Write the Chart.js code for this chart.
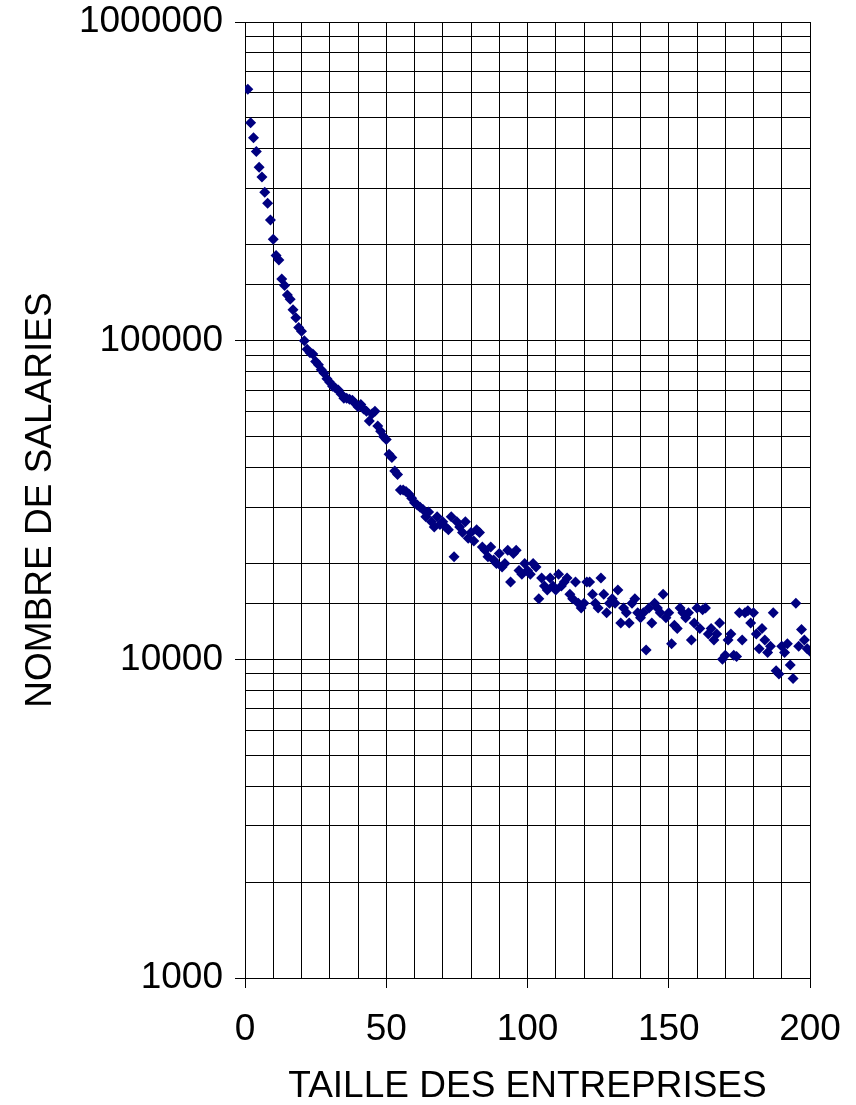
<!DOCTYPE html>
<html lang="fr">
<head>
  <meta charset="UTF-8">
  <title>Nombre de salaries par taille d'entreprise</title>
  <style>
    body {
      margin: 0;
      padding: 0;
      background-color: #ffffff;
    }
    .chart-container {
      width: 856px;
      height: 1105px;
    }
  </style>
</head>
<body>

<div class="chart-container">
  <canvas id="chart"></canvas>
</div>

<script src="https://cdn.jsdelivr.net/npm/chart.js"></script>
<script>
  // taille des entreprises 1..200 (position = index + 1)
  const salaries = [
    615000, 483000, 433000, 392000, 350000, 326000, 292000, 270000, 239000, 208000,
    185000, 179000, 156000, 149000, 139000, 135000, 125000, 118000, 110000, 107000,
    100000, 94000, 91700, 90800, 86000, 84000, 81000, 79000, 76000, 74000,
    72000, 71000, 70000, 68000, 66000, 66000, 65500, 65000, 63500, 62000,
    63000, 61000, 60000, 56000, 59000, 60000, 54000, 52000, 50000, 49000,
    44000, 43000, 39000, 38000, 34000, 34000, 33600, 33000, 32000, 31000,
    30500, 30000, 29500, 28000, 29000, 27000, 26000, 28000, 26500, 27000,
    26000, 25500, 28000, 21000, 27000, 26000, 25000, 27000, 24000, 25000,
    23500, 25500, 25000, 22500, 22000, 21000, 22500, 20500, 20000, 21500,
    19500, 20000, 22000, 17500, 21500, 22000, 19000, 18500, 20000, 19000,
    18500, 20000, 19500, 15500, 18000, 17000, 16500, 18000, 17000, 16500,
    18500, 17000, 17500, 18000, 16000, 15500, 17500, 15000, 14500, 15000,
    17500, 17500, 16000, 15000, 14500, 18000, 16000, 14000, 15000, 15500,
    15000, 16500, 13000, 14500, 14000, 13000, 15000, 15500, 14000, 13500,
    14000, 10700, 14500, 13000, 15000, 14500, 14000, 16000, 13500, 14000,
    11200, 12800, 12500, 14500, 14000, 13500, 14000, 11500, 13000, 14500,
    12500, 14300, 14500, 12000, 12500, 11500, 12000, 13000, 10000, 10300,
    11500, 12000, 10300, 10200, 14000, 11500, 14000, 14200, 13000, 14000,
    12000, 10800, 12500, 11500, 10500, 11000, 14000, 9200, 9000, 11000,
    10500, 11200, 9600, 8700, 15000, 11000, 12400, 11500, 10800, 10600
  ];

  const yLabels = [1000, 10000, 100000, 1000000];
  const xLabels = [0, 50, 100, 150, 200];

  const points = salaries.map((v, i) => ({ x: i + 1, y: v }));

  const fontFamily = "'Liberation Sans', Arial, sans-serif";

  const ctx = document.getElementById('chart').getContext('2d');
  const chart = new Chart(ctx, {
    type: 'scatter',
    data: {
      datasets: [{
        data: points,
        pointStyle: 'rectRot',
        pointRadius: 5.5,
        borderWidth: 0,
        backgroundColor: '#000080',
        borderColor: '#000080'
      }]
    },
    options: {
      responsive: true,
      maintainAspectRatio: false,
      animation: false,
      layout: {
        padding: { left: 0, right: 46, top: 22, bottom: 0 }
      },
      plugins: {
        legend: { display: false },
        tooltip: { enabled: false }
      },
      scales: {
        x: {
          type: 'linear',
          min: 0,
          max: 200,
          afterFit: (scale) => {
            scale.height = 127;
            scale.paddingLeft = 0;
            scale.paddingRight = 0;
          },
          border: { color: '#000', width: 1 },
          grid: {
            color: '#000',
            lineWidth: 1,
            tickLength: 10,
            tickColor: (c) => (c.tick && xLabels.includes(c.tick.value)) ? '#000' : 'rgba(0,0,0,0)'
          },
          ticks: {
            stepSize: 10,
            autoSkip: false,
            maxRotation: 0,
            padding: 20,
            color: '#000',
            font: { family: fontFamily, size: 37 },
            callback: (v) => xLabels.includes(v) ? String(v) : ''
          },
          title: {
            display: true,
            text: 'TAILLE DES ENTREPRISES',
            color: '#000',
            font: { family: fontFamily, size: 37, lineHeight: 1 },
            padding: { top: 4, bottom: 0 }
          }
        },
        y: {
          type: 'logarithmic',
          min: 1000,
          max: 1000000,
          afterFit: (scale) => {
            scale.width = 245;
            scale.paddingTop = 0;
            scale.paddingBottom = 0;
          },
          border: { color: '#000', width: 1 },
          grid: {
            color: '#000',
            lineWidth: 1,
            tickLength: 10,
            tickColor: (c) => (c.tick && yLabels.includes(c.tick.value)) ? '#000' : 'rgba(0,0,0,0)'
          },
          ticks: {
            autoSkip: false,
            padding: 12,
            color: '#000',
            font: { family: fontFamily, size: 37 },
            callback: (v) => yLabels.includes(v) ? String(v) : ''
          },
          title: {
            display: true,
            text: 'NOMBRE DE SALARIES',
            color: '#000',
            font: { family: fontFamily, size: 37, lineHeight: 1 },
            padding: { top: 22, bottom: 0 }
          }
        }
      }
    }
  });
</script>
</body>
</html>
